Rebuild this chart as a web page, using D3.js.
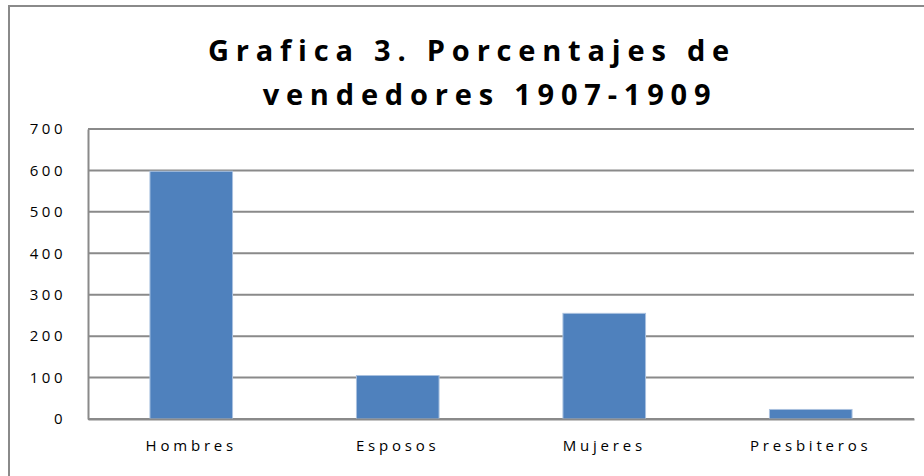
<!DOCTYPE html>
<html>
<head>
<meta charset="utf-8">
<script src="https://cdn.jsdelivr.net/npm/d3@7"></script>
<style>
  body { margin: 0; background: #fff; }
  text { font-family: "Open Sans", "Liberation Sans", sans-serif; fill: #000; }
</style>
</head>
<body>
<div class="chart"></div>
<script>
// data
const categories = ['Hombres', 'Esposos', 'Mujeres', 'Presbiteros'];
const values = [598, 105, 255, 23];
const yTicks = [0, 100, 200, 300, 400, 500, 600, 700];
const titleLines = ['Grafica 3. Porcentajes de', 'vendedores 1907-1909'];

const W = 924, H = 476;
const margin = ({top: 129, right: 10, bottom: 57, left: 88});
const width = W - margin.left - margin.right;
const height = H - margin.top - margin.bottom;

const svg = d3.select('.chart')
  .append('svg')
  .attr('width', W)
  .attr('height', H);

// outer frame, cut off at right and bottom like the scan
svg.append('rect')
  .attr('x', 9)
  .attr('y', 6)
  .attr('width', W)
  .attr('height', H)
  .attr('fill', 'none')
  .attr('stroke', '#8a8a8a')
  .attr('stroke-width', 2);

// title (second line sits a bit to the right in the original)
svg.append('g')
  .selectAll('text')
  .data(titleLines)
  .enter()
  .append('text')
  .attr('x', (d, i) => i == 0 ? 472 : 490)
  .attr('y', (d, i) => 61 + i * 44)
  .attr('text-anchor', 'middle')
  .attr('font-size', 29)
  .attr('font-weight', 'bold')
  .attr('letter-spacing', 6.8)
  .text(d => d);

const g = svg.append('g')
  .attr('transform', 'translate(' + margin.left + ',' + margin.top + ')');

const xScale = d3.scaleBand()
  .domain(categories)
  .range([0, width])
  .paddingInner(0.6)
  .paddingOuter(0.3);

const yScale = d3.scaleLinear()
  .domain([0, 700])
  .range([height, 0]);

// gridlines
g.append('g')
  .selectAll('line')
  .data(yTicks)
  .enter()
  .append('line')
  .attr('x1', 0)
  .attr('x2', width)
  .attr('y1', d => yScale(d))
  .attr('y2', d => yScale(d))
  .attr('stroke', '#8a8a8a')
  .attr('stroke-width', 2);

// y axis
const yAxis = d3.axisLeft(yScale)
  .tickValues(yTicks)
  .tickSize(0)
  .tickPadding(22);

g.append('g')
  .attr('class', 'axis y-axis')
  .call(yAxis)
  .call(s => s.select('.domain').attr('stroke', '#8a8a8a').attr('stroke-width', 2))
  .call(s => s.selectAll('text')
    .attr('font-size', 15)
    .attr('letter-spacing', 3.5)
    .attr('font-family', '"Open Sans", sans-serif'));

// bars
g.selectAll('rect.bar')
  .data(values)
  .enter()
  .append('rect')
  .attr('class', 'bar')
  .attr('x', (d, i) => xScale(categories[i]))
  .attr('y', d => yScale(d))
  .attr('width', xScale.bandwidth())
  .attr('height', d => height - yScale(d))
  .attr('fill', '#4f81bd')
  .attr('stroke', '#a9c1df')
  .attr('stroke-width', 1);

// x axis
const xAxis = d3.axisBottom(xScale)
  .tickSize(0)
  .tickPadding(21);

g.append('g')
  .attr('class', 'axis x-axis')
  .attr('transform', `translate(0, ${height})`)
  .call(xAxis)
  .call(s => s.select('.domain').attr('stroke', '#8a8a8a').attr('stroke-width', 2))
  .call(s => s.selectAll('text')
    .attr('font-size', 15)
    .attr('letter-spacing', 3.8)
    .attr('font-family', '"Open Sans", sans-serif'));
</script>
</body>
</html>
